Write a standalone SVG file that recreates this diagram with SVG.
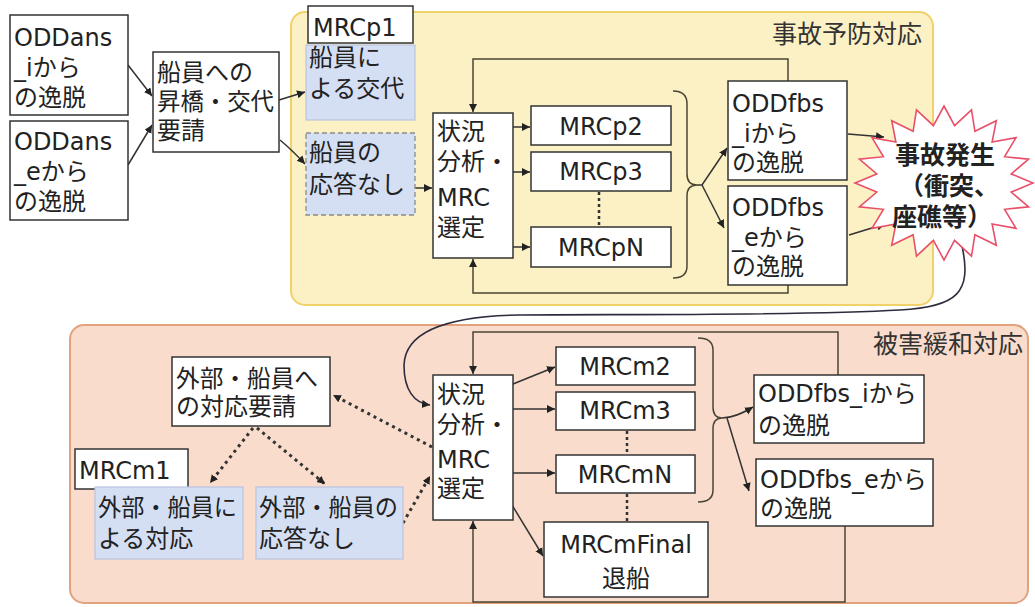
<svg xmlns="http://www.w3.org/2000/svg" width="1035" height="607" viewBox="0 0 1035 607">
<defs>
<style>
.bg{fill:#fff}
.node{fill:#fff;stroke:#333;stroke-width:1.5}
.blue{fill:#d5dff4;stroke:#b9c4e2;stroke-width:1.2}
.bluedash{fill:#d5dff4;stroke:#8a8a8a;stroke-width:1.3;stroke-dasharray:5 3}
.t{font-family:"DejaVu Sans","Noto Sans CJK JP",sans-serif;font-size:24px;fill:#222}
.lbl{font-family:"Noto Sans CJK JP",sans-serif;font-size:25px;fill:#333}
.star{font-family:"DejaVu Sans","Noto Sans CJK JP",sans-serif;font-size:25px;font-weight:bold;fill:#222}
.conn{fill:none;stroke:#333;stroke-width:1.5}
.loop{fill:none;stroke:#4a4535;stroke-width:1.5}
.dot{fill:none;stroke:#333;stroke-width:3;stroke-dasharray:3 4}
.vdot{fill:none;stroke:#333;stroke-width:2.5;stroke-dasharray:3 3}
</style>
<marker id="ah" markerUnits="userSpaceOnUse" markerWidth="9" markerHeight="9" refX="8" refY="4" orient="auto">
<path d="M0,0 L8,4 L0,8 z" fill="#222"/>
</marker>
</defs>
<rect class="bg" x="0" y="0" width="1035" height="607"/>

<g id="panel-top">
<rect x="291" y="12" width="642" height="293" rx="14" fill="#fcf0c5" stroke="#f0d16a" stroke-width="2"/>
<text class="lbl" x="772" y="43">事故予防対応</text>
</g>
<g id="panel-bottom">
<rect x="70" y="325" width="958" height="278" rx="14" fill="#f9dccb" stroke="#e2a27c" stroke-width="2"/>
<text class="lbl" x="873" y="353">被害緩和対応</text>
</g>

<g id="connectors">
<!-- top section -->
<path class="conn" d="M128,65 L152,96" marker-end="url(#ah)"/>
<path class="conn" d="M128,165 L152,125" marker-end="url(#ah)"/>
<path class="conn" d="M279,100 L305,92" marker-end="url(#ah)"/>
<path class="conn" d="M280,140 Q292,150 305,164" marker-end="url(#ah)"/>
<path class="conn" d="M415,188 L432,188" marker-end="url(#ah)"/>
<path class="conn" d="M513,127 L530,127" marker-end="url(#ah)"/>
<path class="conn" d="M513,172 L530,172" marker-end="url(#ah)"/>
<path class="conn" d="M513,247 L530,247" marker-end="url(#ah)"/>
<path class="vdot" d="M599,192 L599,227"/>
<path class="loop" d="M673,91 Q687,91 687,104 L687,174 Q687,185 697,185 Q687,185 687,196 L687,266 Q687,278 673,278"/>
<path class="conn" d="M697,185 L702,185 L727,148" marker-end="url(#ah)"/>
<path class="conn" d="M702,185 L724,228" marker-end="url(#ah)"/>
<path class="loop" d="M788,81 L788,59 L473,59 L473,112" marker-end="url(#ah)"/>
<path class="loop" d="M788,285 L788,293 L473,293 L473,259" marker-end="url(#ah)"/>
<path class="conn" d="M848,134 L884,137" marker-end="url(#ah)"/>
<path class="conn" d="M849,235 L885,224" marker-end="url(#ah)"/>
<path fill="none" stroke="#2c2c3e" stroke-width="1.6" d="M962,246 C972,292 958,307 900,310 C800,316 600,314 520,315 C440,316 405,335 404,365 C404,390 414,403 430,405" marker-end="url(#ah)"/>
<!-- bottom section -->
<path class="conn" d="M513,384 L555,367" marker-end="url(#ah)"/>
<path class="conn" d="M513,409 L555,409" marker-end="url(#ah)"/>
<path class="conn" d="M513,473 L555,473" marker-end="url(#ah)"/>
<path class="conn" d="M512,505 L543,556" marker-end="url(#ah)"/>
<path class="vdot" d="M627,431 L627,455"/>
<path class="vdot" d="M627,494 L627,522"/>
<path class="loop" d="M698,338 Q713,338 713,350 L713,407 Q713,418 722,418 Q713,418 713,429 L713,490 Q713,502 698,502"/>
<path class="conn" d="M722,418 Q735,418 753,407" marker-end="url(#ah)"/>
<path class="conn" d="M727,418 L749,491" marker-end="url(#ah)"/>
<path class="loop" d="M838,375 L838,332 L473,332 L473,374" marker-end="url(#ah)"/>
<path class="loop" d="M845,526 L845,602 L473,602 L473,521" marker-end="url(#ah)"/>
<path class="dot" d="M432,447 L333,395" marker-end="url(#ah)"/>
<path class="dot" d="M253,428 L210,483" marker-end="url(#ah)"/>
<path class="dot" d="M257,428 L325,484" marker-end="url(#ah)"/>
<path class="dot" d="M403,523 L430,476" marker-end="url(#ah)"/>
</g>

<g id="n-oddans-i">
<rect class="node" x="10" y="15" width="118" height="100"/>
<text class="t" x="14" y="46">ODDans</text>
<text class="t" x="14" y="76">_iから</text>
<text class="t" x="14" y="106">の逸脱</text>
</g>
<g id="n-oddans-e">
<rect class="node" x="10" y="121" width="118" height="99"/>
<text class="t" x="14" y="150">ODDans</text>
<text class="t" x="14" y="180">_eから</text>
<text class="t" x="14" y="210">の逸脱</text>
</g>
<g id="n-request">
<rect class="node" x="153" y="52" width="126" height="100"/>
<text class="t" x="157" y="81">船員への</text>
<text class="t" x="157" y="110" textLength="117" lengthAdjust="spacingAndGlyphs">昇橋・交代</text>
<text class="t" x="157" y="139">要請</text>
</g>
<g id="n-mrcp1">
<rect class="node" x="308" y="6" width="105" height="37"/>
<text class="t" x="313" y="36">MRCp1</text>
</g>
<g id="n-crew-takeover">
<rect class="blue" x="306" y="45" width="109" height="75"/>
<text class="t" x="309" y="66">船員に</text>
<text class="t" x="309" y="97">よる交代</text>
</g>
<g id="n-crew-noresp">
<rect class="bluedash" x="306" y="133" width="109" height="82"/>
<text class="t" x="309" y="161">船員の</text>
<text class="t" x="309" y="193">応答なし</text>
</g>
<g id="n-analysis-top">
<rect class="node" x="433" y="113" width="80" height="145"/>
<text class="t" x="437" y="140">状況</text>
<text class="t" x="437" y="170">分析・</text>
<text class="t" x="437" y="206">MRC</text>
<text class="t" x="437" y="236">選定</text>
</g>
<g id="n-mrcp2">
<rect class="node" x="531" y="106" width="140" height="39"/>
<text class="t" x="601" y="135" text-anchor="middle">MRCp2</text>
</g>
<g id="n-mrcp3">
<rect class="node" x="531" y="152" width="140" height="39"/>
<text class="t" x="601" y="180" text-anchor="middle">MRCp3</text>
</g>
<g id="n-mrcpn">
<rect class="node" x="531" y="227" width="140" height="40"/>
<text class="t" x="601" y="256" text-anchor="middle">MRCpN</text>
</g>
<g id="n-oddfbs-i-top">
<rect class="node" x="728" y="81" width="119" height="99"/>
<text class="t" x="732" y="112">ODDfbs</text>
<text class="t" x="732" y="142">_iから</text>
<text class="t" x="732" y="171">の逸脱</text>
</g>
<g id="n-oddfbs-e-top">
<rect class="node" x="728" y="186" width="119" height="99"/>
<text class="t" x="732" y="216">ODDfbs</text>
<text class="t" x="732" y="246">_eから</text>
<text class="t" x="732" y="275">の逸脱</text>
</g>
<g id="n-accident">
<polygon fill="#fff" stroke="#e8506a" stroke-width="1.6" points="944,106 954.6,125.7 971.5,109.8 974.9,131.3 996.3,120.7 992.1,142 1016,137.7 1004.6,156.7 1028.6,159.2 1011.2,173.9 1033,183 1011.2,192.1 1028.6,206.8 1004.6,209.3 1016,228.3 992.1,224 996.3,245.3 974.9,234.7 971.5,256.2 954.6,240.3 944,260 933.4,240.3 916.5,256.2 913.1,234.7 891.7,245.3 895.9,224 872,228.3 883.4,209.3 859.4,206.8 876.8,192.1 855,183 876.8,173.9 859.4,159.2 883.4,156.7 872,137.7 895.9,142 891.7,120.7 913.1,131.3 916.5,109.8 933.4,125.7"/>
<text class="star" x="945" y="164" text-anchor="middle">事故発生</text>
<text class="star" x="949" y="195" text-anchor="middle">（衝突、</text>
<text class="star" x="942" y="226" text-anchor="middle">座礁等）</text>
</g>

<g id="n-ext-request">
<rect class="node" x="172" y="357" width="158" height="69"/>
<text class="t" x="176" y="387" textLength="142" lengthAdjust="spacingAndGlyphs">外部・船員へ</text>
<text class="t" x="176" y="415">の対応要請</text>
</g>
<g id="n-mrcm1">
<rect class="node" x="75" y="449" width="113" height="40"/>
<text class="t" x="79" y="479">MRCm1</text>
</g>
<g id="n-ext-response">
<rect class="blue" x="95" y="487" width="148" height="72"/>
<text class="t" x="98" y="516" textLength="139" lengthAdjust="spacingAndGlyphs">外部・船員に</text>
<text class="t" x="98" y="547">よる対応</text>
</g>
<g id="n-ext-noresp">
<rect class="blue" x="256" y="487" width="147" height="72"/>
<text class="t" x="259" y="516" textLength="139" lengthAdjust="spacingAndGlyphs">外部・船員の</text>
<text class="t" x="259" y="547">応答なし</text>
</g>
<g id="n-analysis-bottom">
<rect class="node" x="433" y="375" width="80" height="145"/>
<text class="t" x="437" y="403">状況</text>
<text class="t" x="437" y="433">分析・</text>
<text class="t" x="437" y="468">MRC</text>
<text class="t" x="437" y="497">選定</text>
</g>
<g id="n-mrcm2">
<rect class="node" x="556" y="347" width="139" height="38"/>
<text class="t" x="625" y="375" text-anchor="middle">MRCm2</text>
</g>
<g id="n-mrcm3">
<rect class="node" x="556" y="392" width="139" height="38"/>
<text class="t" x="625" y="419" text-anchor="middle">MRCm3</text>
</g>
<g id="n-mrcmn">
<rect class="node" x="556" y="455" width="139" height="38"/>
<text class="t" x="625" y="483" text-anchor="middle">MRCmN</text>
</g>
<g id="n-mrcmfinal">
<rect class="node" x="544" y="522" width="164" height="75"/>
<text class="t" x="626" y="553" text-anchor="middle">MRCmFinal</text>
<text class="t" x="626" y="587" text-anchor="middle">退船</text>
</g>
<g id="n-oddfbs-i-bottom">
<rect class="node" x="754" y="375" width="170" height="68"/>
<text class="t" x="758" y="402">ODDfbs_iから</text>
<text class="t" x="758" y="434">の逸脱</text>
</g>
<g id="n-oddfbs-e-bottom">
<rect class="node" x="756" y="459" width="177" height="67"/>
<text class="t" x="760" y="488">ODDfbs_eから</text>
<text class="t" x="760" y="517">の逸脱</text>
</g>
</svg>
